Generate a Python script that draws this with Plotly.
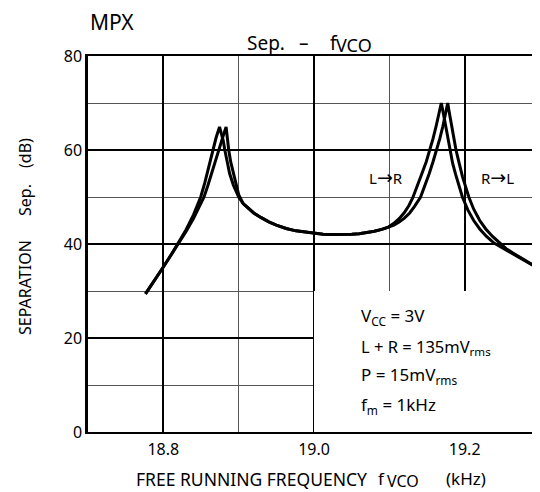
import plotly.graph_objects as go

# ---- data ----
x_lr = [18.7763, 18.79, 18.80, 18.81, 18.82, 18.83, 18.84, 18.8496, 18.855, 18.860,
        18.8658, 18.870, 18.8746, 18.8775, 18.8795, 18.8816, 18.884, 18.888, 18.893, 18.90,
        18.906, 18.913, 18.92, 18.93, 18.94, 18.95, 18.963, 18.976, 18.99, 19.0,
        19.012, 19.024, 19.037, 19.05, 19.06, 19.07, 19.08, 19.09, 19.099, 19.106,
        19.113, 19.12, 19.126, 19.131, 19.137, 19.143, 19.149, 19.154, 19.158, 19.162,
        19.1655, 19.169, 19.171, 19.173, 19.1765, 19.180, 19.184, 19.188, 19.192, 19.197,
        19.204, 19.212, 19.22, 19.229, 19.239, 19.25, 19.26, 19.27, 19.285, 19.30]
y_lr = [29.4, 32.6, 35.1, 37.6, 40.2, 43.0, 46.2, 50.0, 53.0, 56.2,
        60.0, 62.6, 64.9, 63.4, 62.0, 60.0, 57.8, 55.0, 52.5, 50.0,
        48.6, 47.5, 46.6, 45.6, 44.7, 44.0, 43.3, 42.8, 42.5, 42.3,
        42.1, 42.0, 42.0, 42.1, 42.2, 42.4, 42.7, 43.1, 43.6, 44.4,
        45.4, 46.7, 48.2, 49.8, 52.2, 54.9, 57.5, 60.0, 62.4, 65.0,
        67.4, 70.0, 68.4, 66.7, 63.5, 60.0, 57.2, 54.8, 52.6, 50.0,
        47.3, 45.0, 43.2, 41.6, 40.2, 39.2, 38.3, 37.4, 36.0, 34.6]

x_rl = [18.7763, 18.79, 18.80, 18.81, 18.82, 18.83, 18.84, 18.847, 18.854, 18.859,
        18.864, 18.8685, 18.8728, 18.876, 18.879, 18.881, 18.8833, 18.8848, 18.8868, 18.8895,
        18.893, 18.8965, 18.90, 18.906, 18.913, 18.92, 18.93, 18.94, 18.95, 18.963,
        18.976, 18.99, 19.0, 19.012, 19.024, 19.037, 19.05, 19.06, 19.07, 19.08,
        19.09, 19.099, 19.106, 19.113, 19.12, 19.127, 19.1335, 19.1415, 19.147, 19.153,
        19.158, 19.163, 19.167, 19.171, 19.173, 19.1755, 19.1775, 19.179, 19.1805, 19.1845,
        19.1885, 19.193, 19.197, 19.2055, 19.212, 19.22, 19.228, 19.237, 19.2475, 19.255,
        19.264, 19.272, 19.285, 19.30]
y_rl = [29.4, 32.6, 35.1, 37.6, 40.0, 42.6, 45.4, 47.6, 50.0, 52.4,
        55.0, 57.6, 60.0, 61.4, 62.7, 63.8, 64.9, 62.4, 60.0, 57.4,
        55.0, 52.6, 50.5, 48.6, 47.5, 46.6, 45.6, 44.7, 44.0, 43.3,
        42.8, 42.5, 42.3, 42.1, 42.0, 42.0, 42.1, 42.2, 42.4, 42.7,
        43.1, 43.6, 44.0, 44.7, 45.5, 46.6, 48.0, 50.0, 52.3, 55.0,
        57.5, 60.0, 62.4, 65.0, 66.7, 68.6, 70.0, 68.5, 67.0, 63.4,
        60.0, 57.0, 54.4, 50.0, 47.4, 45.0, 43.2, 41.6, 40.0, 39.0,
        38.1, 37.3, 36.0, 34.6]

x_ticks = [18.8, 19.0, 19.2]
x_ticklabels = ["18.8", "19.0", "19.2"]
y_ticks = [0, 20, 40, 60, 80]
x_range = [18.7, 19.3]
y_range = [0, 80]
box_x = [19.0, 19.3]
box_y = [0, 30]

curve_labels = ["L<span style='font-family:DejaVu Sans;font-size:19px'>→</span>R",
                "R<span style='font-family:DejaVu Sans;font-size:19px'>→</span>L"]
cond_lines = ["V<sub>CC</sub> = 3V", "L + R = 135mV<sub>rms</sub>",
              "P = 15mV<sub>rms</sub>", "f<sub>m</sub> = 1kHz"]

FONT = "Noto Sans"

# layout helpers: pixel position in the 540x492 window -> paper coords
PL, PR, PT, PB = 88.0, 540.0, 56.0, 432.0
def px(x):
    return (x - PL) / (PR - PL)
def py(y):
    return (PB - y) / (PB - PT)

fig = go.Figure()
for xs, ys in [(x_lr, y_lr), (x_rl, y_rl)]:
    fig.add_trace(go.Scatter(x=xs, y=ys, mode="lines",
                             line=dict(color="black", width=3),
                             showlegend=False, hoverinfo="skip"))

fig.add_shape(type="rect", x0=box_x[0], x1=box_x[1], y0=box_y[0], y1=box_y[1],
              xref="x", yref="y", fillcolor="white", line=dict(width=0),
              layer="between")

def ann(text, x, y, size, xanchor="center", angle=0):
    fig.add_annotation(xref="paper", yref="paper", x=px(x), y=py(y), text=text,
                       showarrow=False, xanchor=xanchor, yanchor="middle",
                       textangle=angle,
                       font=dict(family=FONT, size=size, color="black"))

# curve labels
ann(curve_labels[0], 385.7, 176.7, 15)
ann(curve_labels[1], 497.8, 176.7, 15)

# conditions box text
cond_py = [316.7, 347.0, 375.8, 405.5]
cond_sz = [17, 16.5, 17, 17]
for t, yy, s in zip(cond_lines, cond_py, cond_sz):
    ann(t, 359, yy, s, xanchor="left")

# headings
ann("MPX", 88, 22, 21, xanchor="left")
ann("Sep.", 245, 42.5, 19, xanchor="left")
ann("–", 304, 42.5, 19)
ann("f", 328, 42.5, 19, xanchor="left")
ann("VCO", 334, 45.0, 18, xanchor="left")

# x axis title
ann("FREE RUNNING FREQUENCY", 251, 478.5, 17.5)
ann("f", 376, 478.5, 17, xanchor="left")
ann("VCO", 385, 480.5, 16, xanchor="left")
ann("(kHz)", 444, 478.5, 17, xanchor="left")

# y axis title (rotated)
ann("SEPARATION", 25, 288, 16, angle=-90)
ann("Sep.", 25, 200, 16, angle=-90)
ann("(dB)", 25, 153, 16, angle=-90)

fig.update_layout(
    width=532, height=484,
    margin=dict(l=80, r=0, t=48, b=60, pad=0),
    paper_bgcolor="white", plot_bgcolor="white",
    xaxis=dict(range=x_range, tickvals=x_ticks, ticktext=x_ticklabels,
               showgrid=True, gridcolor="black", gridwidth=1.5,
               minor=dict(dtick=0.1, tick0=18.7, showgrid=True,
                          gridcolor="#555555", gridwidth=1.2),
               showline=True, linecolor="black", linewidth=2, mirror=True,
               ticks="", ticklen=0, zeroline=False, ticklabelstandoff=2,
               tickfont=dict(family=FONT, size=16, color="black")),
    yaxis=dict(range=y_range, tickvals=y_ticks,
               showgrid=True, gridcolor="black", gridwidth=1.5,
               minor=dict(dtick=10, tick0=0, showgrid=True,
                          gridcolor="#555555", gridwidth=1.2),
               showline=True, linecolor="black", linewidth=2.5, mirror=False,
               ticks="", ticklen=0, zeroline=False, ticklabelstandoff=0,
               tickfont=dict(family=FONT, size=16, color="black")),
)

fig.write_html("out.html")
